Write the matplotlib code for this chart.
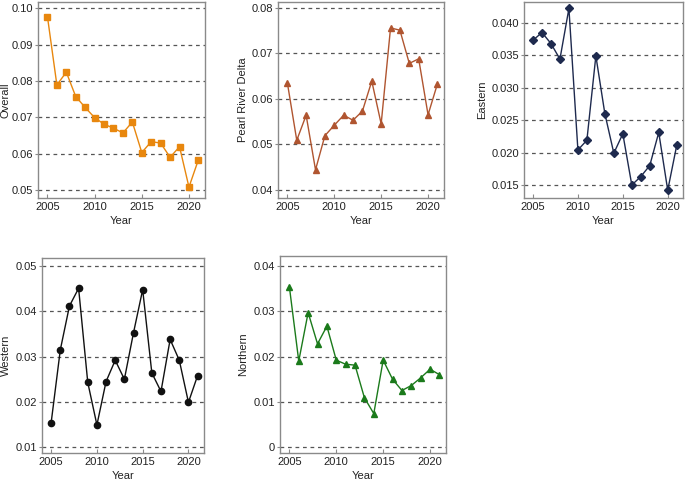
import matplotlib
matplotlib.use('Agg')
import matplotlib.pyplot as plt

plt.rcParams['font.family'] = ['Liberation Sans', 'DejaVu Sans']

years = list(range(2005, 2022))

overall = [0.0977, 0.0789, 0.0824, 0.0757, 0.0727, 0.0699, 0.0681, 0.0670, 0.0657,
           0.0687, 0.0603, 0.0633, 0.0629, 0.0590, 0.0619, 0.0508, 0.0583]
prd = [0.0635, 0.0509, 0.0564, 0.0444, 0.0519, 0.0542, 0.0564, 0.0553, 0.0573,
       0.0639, 0.0545, 0.0756, 0.0751, 0.0678, 0.0688, 0.0565, 0.0633]
eastern = [0.0373, 0.0385, 0.0368, 0.0344, 0.0422, 0.0204, 0.0219, 0.0349, 0.0260,
           0.0199, 0.0229, 0.0150, 0.0163, 0.0180, 0.0231, 0.0142, 0.0211]
western = [0.0154, 0.0315, 0.0412, 0.0451, 0.0243, 0.0149, 0.0245, 0.0292, 0.0250,
           0.0353, 0.0448, 0.0264, 0.0223, 0.0338, 0.0292, 0.0199, 0.0258]
northern = [0.0354, 0.0190, 0.0297, 0.0228, 0.0267, 0.0192, 0.0183, 0.0181, 0.0109,
            0.0074, 0.0192, 0.0150, 0.0125, 0.0136, 0.0153, 0.0172, 0.0160]

W, H = 685, 482
fig = plt.figure(figsize=(W / 100, H / 100), dpi=100)

# (left, right, top, bottom, ylabel centre x) in pixels
boxes = [(38, 205, 2, 198, 6), (278, 444, 2, 198, 243), (524, 683, 2, 198, 482),
         (42, 204, 258, 453, 6), (280, 446, 256, 453, 243)]

panels = [
    (overall, 'Overall', '#E8870E', 's', 4.5, [0.05, 0.06, 0.07, 0.08, 0.09, 0.10], '%.2f', (0.0478, 0.1017)),
    (prd, 'Pearl River Delta', '#B05530', '^', 5, [0.04, 0.05, 0.06, 0.07, 0.08], '%.2f', (0.0382, 0.0813)),
    (eastern, 'Eastern', '#1E2A4E', 'D', 4.2, [0.015, 0.020, 0.025, 0.030, 0.035, 0.040], '%.3f', (0.0130, 0.0432)),
    (western, 'Western', '#111111', 'o', 4.5, [0.01, 0.02, 0.03, 0.04, 0.05], '%.2f', (0.0087, 0.0518)),
    (northern, 'Northern', '#1B7A1B', '^', 5, [0.0, 0.01, 0.02, 0.03, 0.04], None, (-0.0013, 0.0422)),
]

for (l, r, t, b, lx), (vals, label, color, marker, ms, yt, fmt, ylim) in zip(boxes, panels):
    ax = fig.add_axes([l / W, 1 - b / H, (r - l) / W, (b - t) / H])
    ax.plot(years, vals, color=color, marker=marker, markersize=ms, linewidth=1.0)
    ax.set_ylim(ylim)
    ax.set_xlim(2004.0, 2021.7)
    ax.set_xticks([2005, 2010, 2015, 2020])
    ax.set_yticks(yt)
    if fmt:
        ax.set_yticklabels([fmt % v for v in yt])
    else:
        ax.set_yticklabels(['0', '0.01', '0.02', '0.03', '0.04'])
    for v in yt:
        ax.axhline(v, color='#555555', linestyle=(0, (3, 3)), linewidth=0.9, zorder=0)
    for s in ax.spines.values():
        s.set_color('#8a8a8a')
        s.set_linewidth(1.0)
    ax.tick_params(axis='both', labelsize=8, colors='#8a8a8a', labelcolor='#222222',
                   length=2, width=0.8, pad=1.5)
    ax.tick_params(axis='x', direction='in', length=3, pad=3)
    ax.set_xlabel('Year', fontsize=8, color='#222222', labelpad=3)
    ax.set_ylabel(label, fontsize=8, color='#222222')
    ax.yaxis.set_label_coords((lx + 5 - l) / (r - l), 0.5)

fig.savefig('out.png', dpi=100)
